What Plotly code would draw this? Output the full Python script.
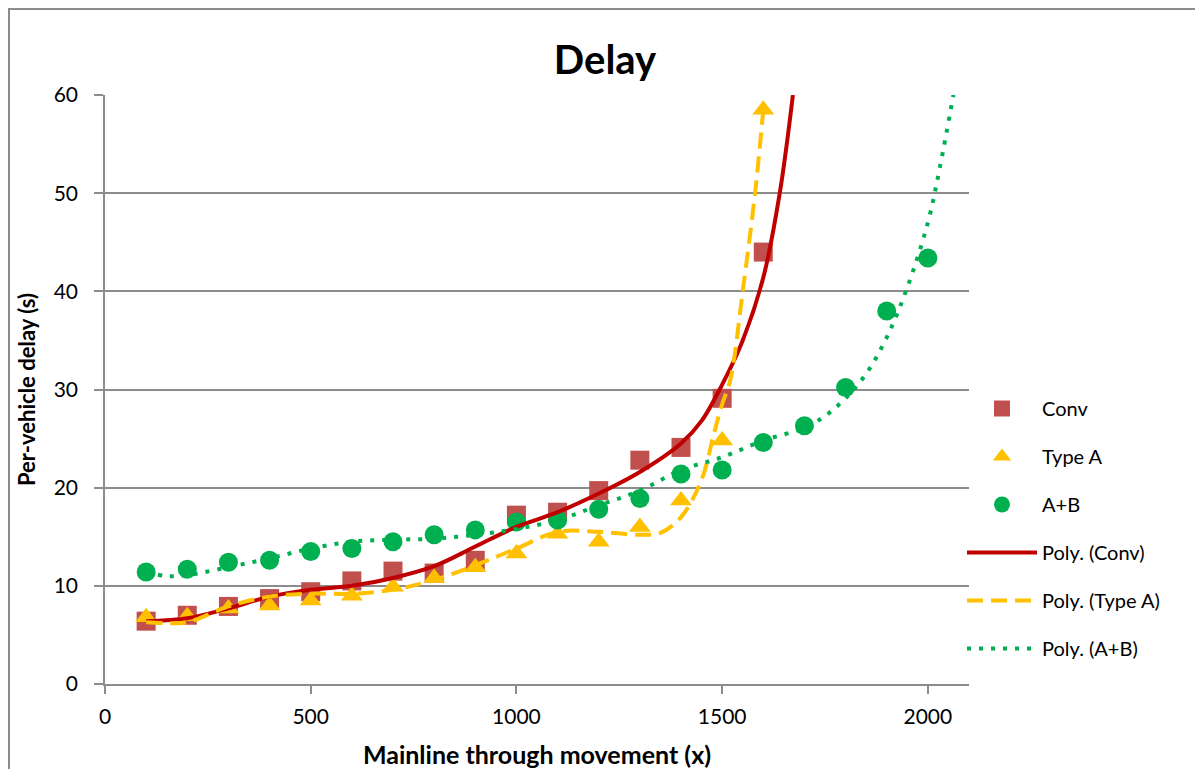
import plotly.graph_objects as go

# measured points
x_pts = [100, 200, 300, 400, 500, 600, 700, 800, 900, 1000,
         1100, 1200, 1300, 1400, 1500, 1600, 1700, 1800, 1900, 2000]
conv = [6.4, 7.0, 7.9, 8.7, 9.4, 10.5, 11.5, 11.3, 12.6, 17.2,
        17.5, 19.7, 22.8, 24.1, 29.1, 44.0]
type_a = [6.8, 6.9, 7.7, 8.0, 8.5, 9.0, 9.9, 10.8, 11.9, 13.3,
          15.3, 14.5, 16.0, 18.7, 24.8, 58.5]
a_b = [11.4, 11.7, 12.4, 12.6, 13.5, 13.8, 14.5, 15.2, 15.7, 16.5,
       16.7, 17.8, 18.9, 21.4, 21.8, 24.6, 26.3, 30.2, 38.0, 43.4]

# polynomial trendlines
conv_trend_x = [100, 200, 300, 400, 500, 600, 700, 800, 900, 1000, 1100, 1200,
                1300, 1400, 1450, 1500, 1550, 1600, 1640, 1672]
conv_trend_y = [6.4, 6.7, 7.7, 8.9, 9.6, 10.0, 10.8, 12.0, 14.0, 16.0, 17.5, 19.4,
                21.6, 24.5, 26.8, 30.5, 35.0, 41.4, 50.0, 60.0]
typea_trend_x = [100, 150, 200, 300, 400, 500, 600, 700, 800, 900, 1000, 1100,
                 1200, 1300, 1350, 1400, 1450, 1480, 1500, 1520, 1550, 1580, 1600]
typea_trend_y = [6.3, 6.2, 6.3, 7.9, 8.9, 9.2, 9.2, 9.6, 10.6, 12.1, 13.8, 15.5,
                 15.5, 15.2, 15.4, 17.0, 20.8, 25.5, 28.5, 31.0, 40.0, 50.0, 58.5]
ab_trend_x = [100, 150, 200, 300, 400, 500, 600, 700, 800, 900, 1000, 1100, 1200,
              1300, 1400, 1500, 1600, 1700, 1750, 1800, 1850, 1900, 1950, 2000,
              2030, 2062]
ab_trend_y = [11.4, 11.0, 11.1, 11.9, 12.8, 13.8, 14.5, 14.7, 14.8, 15.2, 15.8,
              16.7, 18.2, 19.7, 21.8, 23.1, 24.8, 26.1, 27.3, 29.1, 31.6, 35.3,
              40.4, 47.0, 52.8, 60.0]

FONT = "Lato"
RED_M = "#C0504D"
RED_L = "#C00000"
ORANGE = "#FFC000"
GREEN = "#00B050"
GRID = "#8C8C8C"

# page puts the figure 8px in from the corner, so offsets are in figure px
L, T, PW, PH = 97, 87, 864, 589

fig = go.Figure()

fig.add_trace(go.Scatter(x=x_pts[:len(conv)], y=conv, mode="markers", name="Conv",
                         legendgroup="1",
                         marker=dict(symbol="square", size=19, color=RED_M)))
fig.add_trace(go.Scatter(x=x_pts[:len(type_a)], y=type_a, mode="markers", name="Type A",
                         legendgroup="2",
                         marker=dict(symbol="triangle-up", size=19, color=ORANGE)))
fig.add_trace(go.Scatter(x=x_pts, y=a_b, mode="markers", name="A+B",
                         legendgroup="3",
                         marker=dict(symbol="circle", size=19, color=GREEN)))

fig.add_trace(go.Scatter(x=conv_trend_x, y=conv_trend_y, mode="lines", name="Poly. (Conv)",
                         legendgroup="4", line_shape="spline",
                         line=dict(color=RED_L, width=4)))
fig.add_trace(go.Scatter(x=typea_trend_x, y=typea_trend_y, mode="lines", name="Poly. (Type A)",
                         legendgroup="5", line_shape="spline",
                         line=dict(color=ORANGE, width=4, dash="16px,8px")))
fig.add_trace(go.Scatter(x=ab_trend_x, y=ab_trend_y, mode="lines", name="Poly. (A+B)",
                         legendgroup="6", line_shape="spline",
                         line=dict(color=GREEN, width=4, dash="4px,8px")))

# outer chart border (Excel style)
fig.add_shape(type="rect", xref="paper", yref="paper",
              x0=(1 - L) / PW, x1=1.5, y0=-0.5, y1=(T + PH - 1) / PH,
              line=dict(color="#8C8C8C", width=2), fillcolor="rgba(0,0,0,0)",
              layer="below")

fig.update_layout(
    width=1203, height=769,
    margin=dict(l=L, r=1203 - L - PW, t=T, b=769 - T - PH),
    paper_bgcolor="white", plot_bgcolor="white",
    font=dict(family=FONT, size=21, color="black"),
    title=dict(text="<b>Delay</b>", x=(605 - 105) / PW, xref="paper", xanchor="center",
               y=1 - 52 / 769, yanchor="middle", font=dict(size=40, family=FONT)),
    xaxis=dict(range=[0, 2100], tickvals=[0, 500, 1000, 1500, 2000],
               showgrid=False, showline=True, linecolor=GRID, linewidth=1.5,
               ticks="outside", ticklen=8, tickcolor=GRID, tickwidth=1.5,
               ticklabelstandoff=5, zeroline=False, automargin=False,
               title=dict(text="<b>Mainline through movement (x)</b>",
                          font=dict(size=25), standoff=20)),
    yaxis=dict(range=[0, 60], tickvals=[0, 10, 20, 30, 40, 50, 60],
               showgrid=True, gridcolor=GRID, gridwidth=1.5,
               showline=True, linecolor=GRID, linewidth=1.5,
               ticks="outside", ticklen=9, tickcolor=GRID, tickwidth=1.5,
               ticklabelstandoff=12, zeroline=False, automargin=False,
               title=dict(text="<b>Per-vehicle delay (s)</b>",
                          font=dict(size=22), standoff=12)),
    legend=dict(x=(962 - 105) / PW, xanchor="left", y=(684 - 389) / PH, yanchor="top",
                font=dict(size=20), itemwidth=70, tracegroupgap=19,
                bgcolor="rgba(0,0,0,0)"),
)

fig.write_html("out.html")
